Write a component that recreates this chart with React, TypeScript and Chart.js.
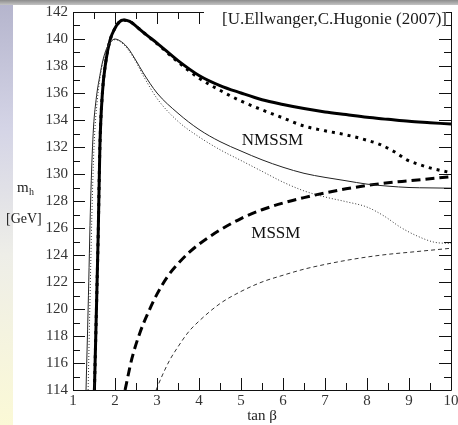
import React, { useEffect, useRef } from "react";
import { Chart, registerables } from "chart.js";

Chart.register(...registerables);

// ---- axis ticks ----
const xTicks = [1, 2, 3, 4, 5, 6, 7, 8, 9, 10];
const yTicks = [114, 116, 118, 120, 122, 124, 126, 128, 130, 132, 134, 136, 138, 140, 142];

// ---- NMSSM, thick solid ----
const nmssmSolidTb = [1.51, 1.55, 1.6, 1.64, 1.7, 1.78, 1.88, 2.0, 2.1, 2.2, 2.35, 2.52, 2.75, 3.0, 3.5, 4.0, 4.5, 5.0, 5.5, 6.0, 6.5, 7.0, 7.5, 8.0, 8.5, 9.0, 9.5, 10];
const nmssmSolidMh = [114, 119, 125.5, 132, 136, 138.3, 139.9, 140.8, 141.25, 141.4, 141.3, 140.9, 140.3, 139.7, 138.4, 137.3, 136.55, 136.0, 135.5, 135.15, 134.85, 134.6, 134.4, 134.2, 134.05, 133.9, 133.8, 133.7];

// ---- NMSSM, thick dotted ----
const nmssmDotTb = [1.51, 1.55, 1.6, 1.64, 1.7, 1.78, 1.88, 2.0, 2.1, 2.2, 2.35, 2.52, 2.75, 3.0, 3.5, 4.0, 4.5, 5.0, 5.5, 6.0, 6.5, 7.0, 7.5, 8.0, 8.3, 8.65, 8.95, 9.2, 9.5, 10];
const nmssmDotMh = [114, 119, 125.5, 132, 136, 138.3, 139.9, 140.8, 141.25, 141.4, 141.3, 140.9, 140.3, 139.65, 138.3, 137.1, 136.2, 135.4, 134.75, 134.15, 133.55, 133.2, 132.9, 132.5, 132.2, 131.65, 131.05, 130.75, 130.45, 130.1];

// ---- NMSSM, thin solid ----
const nmssmThinTb = [1.31, 1.36, 1.42, 1.48, 1.55, 1.64, 1.71, 1.8, 1.9, 2.0, 2.1, 2.29, 2.5, 2.67, 3.0, 3.5, 4.0, 4.5, 5.0, 5.5, 6.0, 6.5, 7.0, 7.5, 8.0, 8.5, 9.0, 9.5, 10];
const nmssmThinMh = [114, 120, 128, 133, 135.5, 137.3, 138.4, 139.3, 139.8, 140.0, 139.9, 139.4, 138.4, 137.5, 136.0, 134.5, 133.3, 132.4, 131.7, 131.05, 130.5, 130.05, 129.75, 129.5, 129.25, 129.1, 129.0, 128.97, 128.95];

// ---- NMSSM, thin dotted ----
const nmssmThinDotTb = [1.36, 1.4, 1.45, 1.5, 1.58, 1.68, 1.8, 1.9, 2.0, 2.1, 2.29, 2.5, 2.67, 3.0, 3.5, 4.0, 4.5, 5.0, 5.5, 6.0, 6.5, 7.0, 7.5, 8.0, 8.4, 8.8, 9.2, 9.6, 10];
const nmssmThinDotMh = [114, 120, 127, 132, 135.5, 137.8, 139.2, 139.75, 139.95, 139.85, 139.3, 138.3, 137.3, 135.6, 133.9, 132.75, 131.8, 131.0, 130.2, 129.4, 128.75, 128.3, 127.95, 127.55, 126.9, 126.05, 125.4, 124.95, 124.85];

// ---- MSSM, thick dashed ----
const mssmThickTb = [2.24, 2.4, 2.6, 2.8, 3.0, 3.25, 3.5, 3.75, 4.0, 4.5, 5.0, 5.5, 6.0, 6.5, 7.0, 7.5, 8.0, 8.5, 9.0, 9.5, 10];
const mssmThickMh = [114, 116.3, 118.3, 119.8, 121.1, 122.4, 123.35, 124.15, 124.8, 125.85, 126.7, 127.35, 127.85, 128.25, 128.6, 128.9, 129.15, 129.35, 129.5, 129.65, 129.8];

// ---- MSSM, thin dashed ----
const mssmThinTb = [2.98, 3.1, 3.3, 3.5, 3.75, 4.0, 4.5, 5.0, 5.5, 6.0, 6.5, 7.0, 7.5, 8.0, 8.5, 9.0, 9.5, 10];
const mssmThinMh = [114, 114.9, 116.2, 117.2, 118.3, 119.1, 120.4, 121.3, 122.0, 122.5, 122.95, 123.3, 123.6, 123.85, 124.05, 124.2, 124.35, 124.5];

const titleText = "[U.Ellwanger,C.Hugonie (2007)]";
const xTitle = "tan \u03b2";
const yTitleTop = "m";
const yTitleSub = "h";
const yTitleUnit = "[GeV]";
const nmssmLabel = "NMSSM";
const mssmLabel = "MSSM";

const pts = (xs: number[], ys: number[]) => xs.map((x, i) => ({ x, y: ys[i] }));

const SERIF = "'Liberation Serif', 'Times New Roman', serif";

const framePlugin = {
  id: "frameAndText",
  afterDatasetsDraw(chart: any) {
    const ctx = chart.ctx as CanvasRenderingContext2D;
    const { left, right, top, bottom } = chart.chartArea;
    const xs = chart.scales.x;
    const ys = chart.scales.y;
    ctx.save();
    ctx.strokeStyle = "#111";
    ctx.lineWidth = 1;
    // frame
    ctx.beginPath();
    ctx.rect(Math.round(left) + 0.5, Math.round(top) + 0.5, Math.round(right - left), Math.round(bottom - top));
    ctx.stroke();
    // x ticks (major at integers, minor at halves) on bottom and top
    ctx.beginPath();
    for (let i = 0; i < xTicks.length; i++) {
      const v = xTicks[i];
      const px = Math.round(xs.getPixelForValue(v)) + 0.5;
      ctx.moveTo(px, bottom);
      ctx.lineTo(px, bottom - 12);
      ctx.moveTo(px, top);
      ctx.lineTo(px, top + 12);
      if (i < xTicks.length - 1) {
        const pm = Math.round(xs.getPixelForValue(v + 0.5)) + 0.5;
        ctx.moveTo(pm, bottom);
        ctx.lineTo(pm, bottom - 7);
        ctx.moveTo(pm, top);
        ctx.lineTo(pm, top + 7);
      }
    }
    // y ticks (major at even, minor at odd) on left and right
    for (let i = 0; i < yTicks.length; i++) {
      const v = yTicks[i];
      const py = Math.round(ys.getPixelForValue(v)) + 0.5;
      ctx.moveTo(left, py);
      ctx.lineTo(left + 12, py);
      ctx.moveTo(right, py);
      ctx.lineTo(right - 12, py);
      if (i < yTicks.length - 1) {
        const pm = Math.round(ys.getPixelForValue(v + 1)) + 0.5;
        ctx.moveTo(left, pm);
        ctx.lineTo(left + 7, pm);
        ctx.moveTo(right, pm);
        ctx.lineTo(right - 7, pm);
      }
    }
    ctx.stroke();

    // title box (white, masks the top axis)
    ctx.fillStyle = "#fff";
    ctx.fillRect(204, 6, 242, 21);
    ctx.fillStyle = "#1a1a1a";
    ctx.font = `17px ${SERIF}`;
    ctx.textAlign = "right";
    ctx.textBaseline = "alphabetic";
    ctx.fillText(titleText, 447, 24);

    // tick labels
    ctx.fillStyle = "#333";
    ctx.font = `15px ${SERIF}`;
    ctx.textAlign = "right";
    ctx.textBaseline = "middle";
    for (const v of yTicks) {
      ctx.fillText(String(v), left - 5, ys.getPixelForValue(v) + 0.5);
    }
    ctx.textAlign = "center";
    for (const v of xTicks) {
      ctx.fillText(String(v), xs.getPixelForValue(v), bottom + 11);
    }

    // axis titles
    ctx.fillStyle = "#222";
    ctx.textBaseline = "alphabetic";
    ctx.textAlign = "center";
    ctx.font = `15px ${SERIF}`;
    ctx.fillText(xTitle, (left + right) / 2, 420);
    ctx.textAlign = "left";
    ctx.font = `15px ${SERIF}`;
    ctx.fillText(yTitleTop, 17, 192);
    ctx.font = `10px ${SERIF}`;
    ctx.fillText(yTitleSub, 29, 195);
    ctx.font = `14px ${SERIF}`;
    ctx.fillText(yTitleUnit, 6, 223);

    // curve labels
    ctx.fillStyle = "#111";
    ctx.font = `17px ${SERIF}`;
    ctx.textAlign = "center";
    ctx.fillText(nmssmLabel, xs.getPixelForValue(5.75), ys.getPixelForValue(132.15));
    ctx.fillText(mssmLabel, xs.getPixelForValue(5.83), ys.getPixelForValue(125.26));
    ctx.restore();
  },
};

export default function App() {
  const ref = useRef<HTMLCanvasElement | null>(null);
  useEffect(() => {
    if (!ref.current) return;
    const chart = new Chart(ref.current, {
      type: "line",
      data: {
        datasets: [
          { label: "NMSSM thin dotted", data: pts(nmssmThinDotTb, nmssmThinDotMh), borderColor: "#333", borderWidth: 1, borderDash: [1, 2] },
          { label: "NMSSM thin", data: pts(nmssmThinTb, nmssmThinMh), borderColor: "#222", borderWidth: 1 },
          { label: "MSSM thin", data: pts(mssmThinTb, mssmThinMh), borderColor: "#333", borderWidth: 1, borderDash: [4, 3] },
          { label: "MSSM thick", data: pts(mssmThickTb, mssmThickMh), borderColor: "#000", borderWidth: 3, borderDash: [9, 5] },
          { label: "NMSSM dotted", data: pts(nmssmDotTb, nmssmDotMh), borderColor: "#000", borderWidth: 3, borderDash: [3, 5] },
          { label: "NMSSM", data: pts(nmssmSolidTb, nmssmSolidMh), borderColor: "#000", borderWidth: 3 },
        ],
      },
      options: {
        responsive: false,
        animation: false,
        events: [],
        layout: { padding: { left: 73, right: 7, top: 12, bottom: 35 } },
        plugins: { legend: { display: false }, tooltip: { enabled: false } },
        elements: {
          point: { radius: 0 },
          line: { cubicInterpolationMode: "monotone", fill: false },
        },
        scales: {
          x: { type: "linear", min: 1, max: 10, display: false },
          y: { type: "linear", min: 114, max: 142, display: false },
        },
      },
      plugins: [framePlugin],
    });
    return () => chart.destroy();
  }, []);

  return (
    <div style={{ position: "fixed", left: 0, top: 0, width: 458, height: 425, background: "#fff", overflow: "hidden" }}>
      <div style={{ position: "absolute", left: 0, top: 0, width: 13, height: 425, background: "linear-gradient(to bottom, #b4b4cc 0%, #d4d4e6 30%, #eeeee8 60%, #fbf9d6 100%)" }} />
      <div style={{ position: "absolute", left: 0, top: 0, width: 458, height: 5, background: "linear-gradient(to bottom, #8c8c8c, #c4c4c4)" }} />
      <canvas ref={ref} width={458} height={425} style={{ position: "absolute", left: 0, top: 0, width: 458, height: 425 }} />
    </div>
  );
}
